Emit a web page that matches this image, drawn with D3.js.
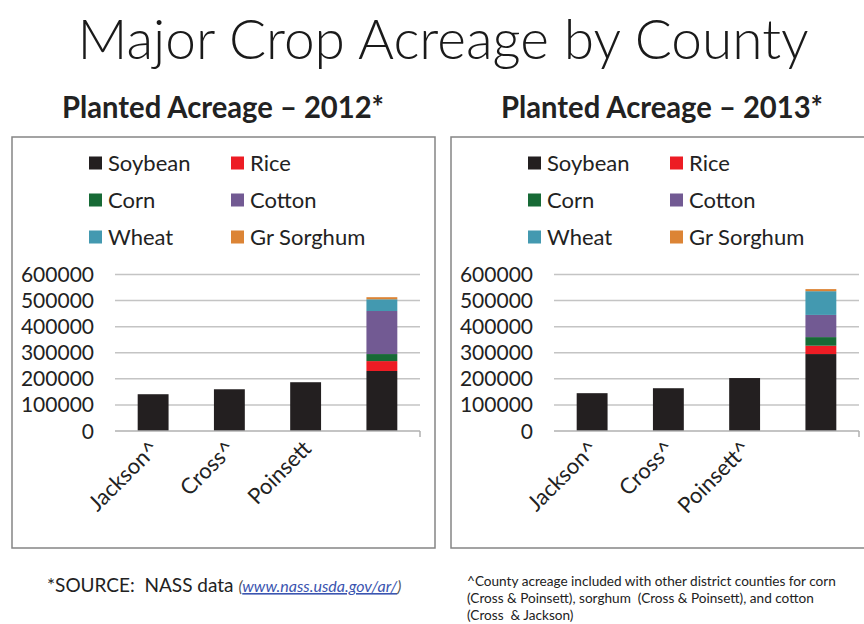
<!DOCTYPE html>
<html><head><meta charset="utf-8">
<script src="https://cdn.jsdelivr.net/npm/d3@7"></script>
<style>html,body{margin:0;padding:0;background:#fff}</style>
</head><body><svg id="c" width="864" height="624"></svg>
<script>
const crops = ["Soybean","Rice","Corn","Cotton","Wheat","Gr Sorghum"];
const cropColors = ["#231f20","#ed1c24","#176a36","#725a93","#4399b0","#dc8435"];
const categories2012 = ["Jackson^","Cross^","Poinsett",""];
const categories2013 = ["Jackson^","Cross^","Poinsett^",""];
const soybean2012 = [141000,160000,187000,230000];
const rice2012    = [0,0,0,38000];
const corn2012    = [0,0,0,27000];
const cotton2012  = [0,0,0,165000];
const wheat2012   = [0,0,0,45000];
const sorghum2012 = [0,0,0,8000];
const soybean2013 = [145000,164000,203000,295000];
const rice2013    = [0,0,0,32000];
const corn2013    = [0,0,0,33000];
const cotton2013  = [0,0,0,85000];
const wheat2013   = [0,0,0,91000];
const sorghum2013 = [0,0,0,8000];
const yTicks = [0,100000,200000,300000,400000,500000,600000];

const svg = d3.select("#c");
svg.append("rect").attr("width",864).attr("height",624).attr("fill","#fff");
const FONT = "Lato, 'Open Sans', sans-serif";

svg.append("text").attr("x",443).attr("y",59).attr("text-anchor","middle")
  .attr("font-family",FONT).attr("font-weight",300).attr("font-size",55).attr("fill","#1a1a1a")
  .text("Major Crop Acreage by County");

function panel(ox, subtitle, cats, series) {
  const g = svg.append("g").attr("transform",`translate(${ox},0)`);
  g.append("text").attr("x",62).attr("y",118)
    .attr("font-family",FONT).attr("font-weight",700).attr("font-size",30).attr("fill","#222")
    .attr("textLength",322).attr("lengthAdjust","spacingAndGlyphs")
    .text(subtitle);
  g.append("rect").attr("x",12).attr("y",137).attr("width",423).attr("height",411)
    .attr("fill","none").attr("stroke","#858585").attr("stroke-width",1.5);
  // legend
  crops.forEach((c,i)=>{
    const col = i%2, row = Math.floor(i/2);
    const lx = 89 + col*142, ly = 163 + row*37;
    g.append("rect").attr("x",lx).attr("y",ly-6.5).attr("width",13).attr("height",13).attr("fill",cropColors[i]);
    g.append("text").attr("x",lx+19).attr("y",ly+8).attr("font-family",FONT).attr("font-size",22)
      .attr("fill","#222").text(c);
  });
  const rows = cats.map((c,i)=>{const o={cat:i}; crops.forEach((k,j)=>o[k]=series[j][i]); return o;});
  const x = d3.scaleBand().domain(d3.range(cats.length)).range([115,420]).paddingInner(0.595).paddingOuter(0.2975);
  const y = d3.scaleLinear().domain([0,600000]).range([431,274.5]);
  // grid
  g.append("g").selectAll("line").data(yTicks.filter(t=>t>0)).join("line")
    .attr("x1",115).attr("x2",420).attr("y1",d=>y(d)).attr("y2",d=>y(d))
    .attr("stroke","#c4c4c4").attr("stroke-width",1.5);
  // y labels
  g.append("g").selectAll("text").data(yTicks).join("text")
    .attr("x",94).attr("y",d=>y(d)+7.5).attr("text-anchor","end")
    .attr("font-family",FONT).attr("font-size",21).attr("fill","#222").text(d=>d);
  const stack = d3.stack().keys(crops)(rows);
  g.append("g").selectAll("g").data(stack).join("g").attr("fill",(d,i)=>cropColors[i])
    .selectAll("rect").data(d=>d).join("rect")
    .attr("x",(d,i)=>x(i)).attr("width",x.bandwidth())
    .attr("y",d=>y(d[1])).attr("height",d=>y(d[0])-y(d[1]));
  // axis line
  g.append("line").attr("x1",115).attr("x2",420).attr("y1",y(0)).attr("y2",y(0))
    .attr("stroke","#b0b0b0").attr("stroke-width",1.5);
  g.append("line").attr("x1",420).attr("x2",420).attr("y1",y(0)).attr("y2",y(0)+6)
    .attr("stroke","#b0b0b0").attr("stroke-width",1.5);
  // x labels
  g.append("g").selectAll("text").data(cats).join("text")
    .attr("transform",(d,i)=>`translate(${x(i)+x.bandwidth()/2+7},${y(0)+19}) rotate(-45)`)
    .attr("text-anchor","end").attr("font-family",FONT).attr("font-size",22).attr("fill","#222")
    .text(d=>d);
}
panel(0,"Planted Acreage – 2012*",categories2012,[soybean2012,rice2012,corn2012,cotton2012,wheat2012,sorghum2012]);
panel(439,"Planted Acreage – 2013*",categories2013,[soybean2013,rice2013,corn2013,cotton2013,wheat2013,sorghum2013]);

const fn = svg.append("text").attr("x",47).attr("y",592).attr("font-family",FONT)
  .attr("xml:space","preserve").attr("fill","#222");
fn.append("tspan").attr("font-size",19).text("*SOURCE:  NASS data ");
fn.append("tspan").attr("font-size",16).attr("font-style","italic").attr("fill","#555").text("(");
fn.append("tspan").attr("font-size",16).attr("font-style","italic").attr("fill","#3b55b0").attr("text-decoration","underline").text("www.nass.usda.gov/ar/");
fn.append("tspan").attr("font-size",16).attr("font-style","italic").attr("fill","#555").text(")");

const notes = ["^County acreage included with other district counties for corn",
  "(Cross & Poinsett), sorghum  (Cross & Poinsett), and cotton",
  "(Cross  & Jackson)"];
svg.append("g").selectAll("text").data(notes).join("text")
  .attr("x",467).attr("y",(d,i)=>586+i*17).attr("xml:space","preserve")
  .attr("font-family",FONT).attr("font-size",13.6).attr("fill","#222").text(d=>d);
</script></body></html>
